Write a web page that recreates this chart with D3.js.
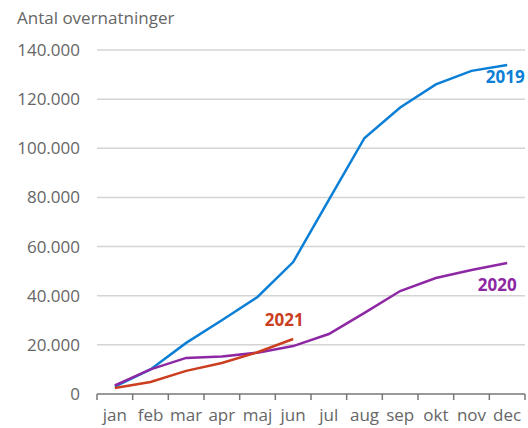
<!DOCTYPE html>
<html>
<head>
<meta charset="utf-8">
<script src="https://cdn.jsdelivr.net/npm/d3@7"></script>
<style>
  body { margin: 0; background: #fff; }
  text { font-family: "Open Sans", sans-serif; }
</style>
</head>
<body>
<div id="wrapper"></div>
<script>
const months = ["jan", "feb", "mar", "apr", "maj", "jun", "jul", "aug", "sep", "okt", "nov", "dec"]
const yTicks = [0, 20000, 40000, 60000, 80000, 100000, 120000, 140000]

const values2019 = [3000, 10000, 20800, 30000, 39500, 53700, 79000, 104200, 116600, 126000, 131500, 133900]
const values2020 = [3500, 10000, 14700, 15300, 16800, 19500, 24400, 33000, 41900, 47200, 50500, 53300]
const values2021 = [2400, 4900, 9400, 12600, 17000, 22400]

const seriesNames = ["2019", "2020", "2021"]
const seriesColors = ["#0b7fd6", "#8e27a4", "#cb3e1f"]

function drawLineChart() {
  const dimensions = {
    width: 528,
    height: 428,
    margin: { top: 50, right: 3, bottom: 34, left: 97 },
  }
  dimensions.boundedWidth = dimensions.width - dimensions.margin.left - dimensions.margin.right
  dimensions.boundedHeight = dimensions.height - dimensions.margin.top - dimensions.margin.bottom

  const wrapper = d3.select("#wrapper")
    .append("svg")
      .attr("width", dimensions.width)
      .attr("height", dimensions.height)

  const bounds = wrapper.append("g")
    .attr("transform", `translate(${dimensions.margin.left},${dimensions.margin.top})`)

  const xScale = d3.scaleBand()
    .domain(months)
    .range([0, dimensions.boundedWidth])

  const yScale = d3.scaleLinear()
    .domain([0, 140000])
    .range([dimensions.boundedHeight, 0])

  // gridlines
  bounds.append("g")
    .selectAll("line")
    .data(yTicks.filter(d => d > 0))
    .join("line")
      .attr("x1", 0)
      .attr("x2", dimensions.boundedWidth)
      .attr("y1", d => yScale(d))
      .attr("y2", d => yScale(d))
      .attr("stroke", "#d4d4d4")
      .attr("stroke-width", 1.5)

  // y axis labels
  const fmt = d => d === 0 ? "0" : d3.format(",")(d).replace(/,/g, ".")
  bounds.append("g")
    .selectAll("text")
    .data(yTicks)
    .join("text")
      .attr("x", -17)
      .attr("y", d => yScale(d))
      .attr("dy", "0.35em")
      .attr("text-anchor", "end")
      .attr("fill", "#666")
      .style("font-size", "17px")
      .text(fmt)

  // x axis
  const xAxis = bounds.append("g")
    .attr("transform", `translate(0,${dimensions.boundedHeight})`)
  xAxis.append("line")
    .attr("x1", 0)
    .attr("x2", dimensions.boundedWidth)
    .attr("stroke", "#777")
    .attr("stroke-width", 1.5)
  xAxis.selectAll(".tick")
    .data(months.concat(["end"]))
    .join("line")
      .attr("x1", (d, i) => i * xScale.step())
      .attr("x2", (d, i) => i * xScale.step())
      .attr("y1", 0)
      .attr("y2", 6)
      .attr("stroke", "#777")
      .attr("stroke-width", 1.5)
  xAxis.selectAll("text")
    .data(months)
    .join("text")
      .attr("x", d => xScale(d) + xScale.bandwidth() / 2)
      .attr("y", 27)
      .attr("text-anchor", "middle")
      .attr("fill", "#666")
      .style("font-size", "17px")
      .text(d => d)

  // title
  wrapper.append("text")
    .attr("x", 17)
    .attr("y", 24)
    .attr("fill", "#666")
    .style("font-size", "17px")
    .text("Antal overnatninger")

  const lineGenerator = d3.line()
    .x((d, i) => xScale(months[i]) + xScale.bandwidth() / 2)
    .y(d => yScale(d))

  const allSeries = [values2019, values2020, values2021]
  allSeries.forEach((vals, i) => {
    bounds.append("path")
      .attr("d", lineGenerator(vals))
      .attr("fill", "none")
      .attr("stroke", seriesColors[i])
      .attr("stroke-width", 2.5)
  })

  // series labels
  const labelPos = [
    { month: "dec", value: 126500, dx: -2 },
    { month: "dec", value: 42000, dx: -10 },
    { month: "jun", value: 27500, dx: -9 },
  ]
  labelPos.forEach((p, i) => {
    bounds.append("text")
      .attr("x", xScale(p.month) + xScale.bandwidth() / 2 + p.dx)
      .attr("y", yScale(p.value))
      .attr("text-anchor", "middle")
      .attr("fill", seriesColors[i])
      .style("font-size", "17px")
      .style("font-weight", "bold")
      .text(seriesNames[i])
  })
}

drawLineChart()
</script>
</body>
</html>
